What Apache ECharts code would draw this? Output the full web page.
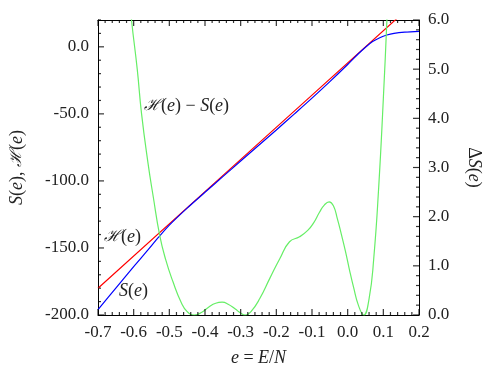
<!DOCTYPE html>
<html>
<head>
<meta charset="utf-8">
<script src="https://cdn.jsdelivr.net/npm/echarts@6/dist/echarts.min.js"></script>
<style>
  html, body { margin: 0; padding: 0; background: #fff; }
  #chart { width: 491px; height: 372px; }
</style>
</head>
<body>
<div id="chart"></div>
<script>
// S(e), blue, left axis
const sE = [-0.70, -0.65, -0.60, -0.56, -0.53, -0.50, -0.45, -0.40, -0.35, -0.30, -0.25, -0.20, -0.15, -0.10, -0.05, 0.00, 0.03, 0.05, 0.07, 0.09, 0.11, 0.13, 0.16, 0.20]
const sVal = [-196, -180, -164, -151.5, -142, -133, -120.3, -108.5, -96.8, -85.2, -73.6, -62, -50.2, -38.3, -26, -13.2, -5.2, -0.3, 3.9, 6.8, 8.8, 10, 10.9, 11.5]

// H(e), red, left axis
const hE = [-0.70, -0.40, -0.10, 0.20]
const hVal = [-180, -108, -36, 36]

// ΔS(e), green, right axis
const dE = [-0.63, -0.606, -0.59, -0.578, -0.56, -0.545, -0.527, -0.51, -0.49, -0.467, -0.45, -0.43, -0.41, -0.39, -0.37, -0.352, -0.335, -0.315, -0.30, -0.287, -0.27, -0.246, -0.218, -0.19, -0.163, -0.135, -0.112, -0.095, -0.079, -0.065, -0.052, -0.04, -0.029, -0.018, -0.006, 0.005, 0.017, 0.03, 0.045, 0.06, 0.073, 0.087, 0.10, 0.11, 0.12]
const dVal = [7.8, 6.0, 5.0, 4.1, 3.1, 2.4, 1.62, 1.12, 0.68, 0.26, 0.07, 0.0, 0.05, 0.16, 0.24, 0.26, 0.22, 0.12, 0.04, 0.0, 0.08, 0.34, 0.75, 1.15, 1.49, 1.59, 1.72, 1.88, 2.09, 2.24, 2.30, 2.22, 1.96, 1.65, 1.29, 0.92, 0.55, 0.2, 0.0, 0.33, 1.14, 2.6, 4.4, 6.0, 7.8]

// axis ranges and tick positions
const xMin = -0.7, xMax = 0.2, xStep = 0.1
const yMin = -200, yMax = 20, yStep = 50
const dMin = 0, dMax = 6, dStep = 1
const xTicks = [-0.7, -0.6, -0.5, -0.4, -0.3, -0.2, -0.1, 0.0, 0.1, 0.2]
const yTicks = [-200, -150, -100, -50, 0]
const dTicks = [0, 1, 2, 3, 4, 5, 6]

// minor tick positions: split each step into parts
function minors(lo, hi, step, parts) {
  const out = []
  const sub = step / parts
  const n = Math.round((hi - lo) / sub)
  for (let k = 0; k <= n; k++) {
    if (k % parts !== 0) out.push(+(lo + k * sub).toFixed(6))
  }
  return out
}
const xMinor = minors(xMin, xMax, xStep, 5)
const yMinor = minors(yMin, yMax, yStep / 5 * 5, 5).filter(v => v <= yMax) // every 10
const dMinor = minors(dMin, dMax, dStep, 5)

const pair = (xs, ys) => xs.map((x, i) => [x, ys[i]])

const FONT = "Liberation Serif"
const TXT = '#222'
const rich = () => ({
  i: { fontStyle: 'italic', fontFamily: FONT, fontSize: 18, color: TXT },
  c: { fontStyle: 'italic', fontFamily: 'DejaVu Serif', fontSize: 16, color: TXT }
})
const fmt1 = v => (Math.abs(v) < 1e-9 ? 0 : v).toFixed(1)

const axLine = () => ({ show: true, onZero: false, lineStyle: { color: '#000', width: 1 } })
const lbl = () => ({ fontFamily: FONT, fontSize: 17, color: TXT, margin: 9, formatter: fmt1 })
const nameStyle = () => ({ fontFamily: FONT, fontSize: 18, color: TXT, rich: rich() })

// inward tick marks drawn as thin rect symbols sitting on the axes
function tickSeries(data, yIdx, size, offset) {
  return {
    type: 'scatter', xAxisIndex: 0, yAxisIndex: yIdx, data,
    symbol: 'rect', symbolSize: size, symbolOffset: offset,
    itemStyle: { color: '#000' }, silent: true, clip: false, z: 5,
    emphasis: { disabled: true }
  }
}

const chart = echarts.init(document.getElementById('chart'))
chart.setOption({
  animation: false,
  textStyle: { fontFamily: FONT },
  grid: { left: 96, right: 70, top: 20, bottom: 55 },
  xAxis: [
    {
      type: 'value', min: xMin, max: xMax, interval: xStep,
      axisLine: axLine(), axisTick: { show: false },
      splitLine: { show: false }, axisLabel: lbl(),
      name: '{i|e} = {i|E}/{i|N}', nameLocation: 'middle', nameGap: 34,
      nameTextStyle: nameStyle()
    },
    {
      type: 'value', position: 'top', min: xMin, max: xMax, interval: xStep,
      axisLine: axLine(), axisTick: { show: false },
      splitLine: { show: false }, axisLabel: { show: false }
    }
  ],
  yAxis: [
    {
      type: 'value', position: 'left', min: yMin, max: yMax, interval: yStep,
      axisLine: axLine(), axisTick: { show: false }, splitLine: { show: false },
      axisLabel: Object.assign(lbl(), { showMaxLabel: false }),
      name: '{i|S}({i|e}), {c|ℋ}({i|e})', nameLocation: 'middle', nameGap: 72,
      nameTextStyle: nameStyle()
    },
    {
      type: 'value', position: 'right', min: dMin, max: dMax, interval: dStep,
      axisLine: axLine(), axisTick: { show: false },
      splitLine: { show: false }, axisLabel: lbl(),
      name: 'Δ{i|S}({i|e})', nameLocation: 'middle', nameGap: 46, nameRotate: -90,
      nameTextStyle: nameStyle()
    }
  ],
  graphic: [
    { type: 'text', left: 144, top: 97, style: { text: '{c|ℋ}({i|e}) − {i|S}({i|e})', font: '18px ' + FONT, fill: TXT, rich: rich() } },
    { type: 'text', left: 104, top: 228, style: { text: '{c|ℋ}({i|e})', font: '18px ' + FONT, fill: TXT, rich: rich() } },
    { type: 'text', left: 119, top: 282, style: { text: '{i|S}({i|e})', font: '18px ' + FONT, fill: TXT, rich: rich() } }
  ],
  series: [
    {
      name: 'H', type: 'line', xAxisIndex: 0, yAxisIndex: 0,
      data: pair(hE, hVal), showSymbol: false,
      lineStyle: { color: '#ff0000', width: 1.2 }
    },
    {
      name: 'S', type: 'line', xAxisIndex: 0, yAxisIndex: 0,
      data: pair(sE, sVal), showSymbol: false, smooth: 0.3,
      lineStyle: { color: '#0000ff', width: 1.2 }
    },
    {
      name: 'dS', type: 'line', xAxisIndex: 0, yAxisIndex: 1,
      data: pair(dE, dVal), showSymbol: false, smooth: 0.5,
      lineStyle: { color: '#66ee66', width: 1.2 }
    },
    // bottom and top ticks
    tickSeries(xTicks.map(x => [x, yMin]), 0, [1.2, 6], [0, -3]),
    tickSeries(xMinor.map(x => [x, yMin]), 0, [1.2, 3], [0, -1.5]),
    tickSeries(xTicks.map(x => [x, yMax]), 0, [1.2, 6], [0, 3]),
    tickSeries(xMinor.map(x => [x, yMax]), 0, [1.2, 3], [0, 1.5]),
    // left ticks
    tickSeries(yTicks.map(y => [xMin, y]), 0, [6, 1.2], [3, 0]),
    tickSeries(yMinor.map(y => [xMin, y]), 0, [3, 1.2], [1.5, 0]),
    // right ticks
    tickSeries(dTicks.map(d => [xMax, d]), 1, [6, 1.2], [-3, 0]),
    tickSeries(dMinor.map(d => [xMax, d]), 1, [3, 1.2], [-1.5, 0])
  ]
})
</script>
</body>
</html>
